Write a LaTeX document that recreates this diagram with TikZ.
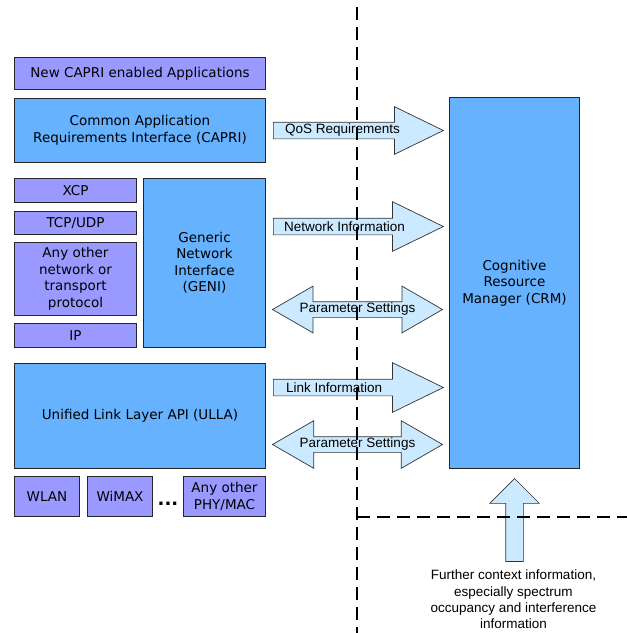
\documentclass[tikz,border=0pt]{standalone}
\usepackage{fontspec}
\setmainfont{DejaVu Sans}
\newfontfamily\arialfont{Liberation Sans}
\usepackage{tikz}
\usetikzlibrary{positioning, calc, shapes.arrows}

\definecolor{appcol}{RGB}{153,153,255}
\definecolor{ifacecol}{RGB}{102,178,255}
\definecolor{arrowcol}{RGB}{204,234,255}

\begin{document}
\begin{tikzpicture}[x=1pt, y=-1pt, font=\fontsize{13.5}{16.5}\selectfont]
    \tikzstyle{app} = [rectangle, draw=black!85, fill=appcol, line width=1pt, align=center, inner sep=1pt, anchor=north west]
    \tikzstyle{iface} = [rectangle, draw=black!85, fill=ifacecol, line width=1pt, align=center, inner sep=1pt, anchor=north west]
    \tikzstyle{infoarrow} = [single arrow, draw=black!80, fill=arrowcol, line width=0.7pt, inner xsep=0pt, inner ysep=8pt, single arrow tip angle=52, single arrow head extend=15.5pt, minimum height=170pt, anchor=tail]
    \tikzstyle{setarrow} = [double arrow, draw=black!80, fill=arrowcol, line width=0.7pt, inner xsep=0pt, inner ysep=7.5pt, double arrow tip angle=60, double arrow head extend=15.5pt, minimum height=170pt]
    \tikzstyle{arrowtext} = [font=\arialfont\fontsize{13.5}{16.3}\selectfont, inner sep=1pt]
    \tikzstyle{border} = [line width=2pt, dash pattern=on 13pt off 7pt]

    \useasboundingbox (0,0) rectangle (627,633);

    % left stack
    \node [app, minimum width=251pt, minimum height=32pt] (newapps) at (14,57) {New CAPRI enabled Applications};
    \node [iface, minimum width=251pt, minimum height=64pt] (capri) at (14,98) {Common Application\\Requirements Interface (CAPRI)};
    \node [app, minimum width=122pt, minimum height=24pt] (xcp) at (14,178) {XCP};
    \node [app, minimum width=122pt, minimum height=23pt] (tcp) at (14,211) {TCP/UDP};
    \node [app, minimum width=122pt, minimum height=73pt] (anyproto) at (14,242) {Any other\\network or\\transport\\protocol};
    \node [app, minimum width=122pt, minimum height=24pt] (ip) at (14,323) {IP};
    \node [iface, minimum width=122pt, minimum height=169pt] (geni) at (143,178) {Generic\\Network\\Interface\\(GENI)};
    \node [iface, minimum width=251pt, minimum height=105pt] (ulla) at (14,363) {Unified Link Layer API (ULLA)};
    \node [app, minimum width=65pt, minimum height=40pt] (wlan) at (14,476) {WLAN};
    \node [app, minimum width=65pt, minimum height=40pt] (wimax) at (87,476) {WiMAX};
    \node [app, minimum width=82pt, minimum height=40pt] (anyphy) at (183,476) {Any other\\PHY/MAC};
    \node [inner sep=0pt, font=\fontsize{18}{18}\selectfont] (dots) at ($(wimax.east)!0.5!(anyphy.west)+(0,7)$) {\textbf{...}};

    % resource manager
    \node [iface, minimum width=130pt, minimum height=371pt] (crm) at (449,97) {Cognitive\\Resource\\Manager (CRM)};

    % arrows between the stacks and the CRM
    \node [infoarrow] (qos) at ($(capri.east)+(7,0)$) {};
    \node [infoarrow, single arrow head extend=16.5pt] (netinfo) at ($(geni.east)+(7,-36.5)$) {};
    \node [setarrow] (netset) at ($(geni.east)!0.5!(crm.west)+(0,36.5)$) {};
    \node [infoarrow, single arrow head extend=16.5pt] (linkinfo) at ($(ulla.east)+(7,-28.5)$) {};
    \node [setarrow, double arrow head extend=16pt] (linkset) at ($(ulla.east)!0.5!(crm.west |- ulla.east)+(0,28.5)$) {};

    % further context from below
    \node [single arrow, draw=black!80, fill=arrowcol, line width=0.7pt, inner xsep=8.5pt, inner ysep=0pt, single arrow head extend=16pt, minimum height=83pt, shape border rotate=90, anchor=tip] (context) at ($(crm.south)+(0,9)$) {};

    % dashed borders
    \coordinate (bordertop) at (357,7);
    \coordinate (borderbot) at (357,633);
    \coordinate (borderright) at (627,517);
    \draw [border] (bordertop) -- (borderbot);
    \draw [border] (borderbot |- borderright) -- (borderright);

    % arrow labels
    \node [arrowtext, anchor=west] (qostext) at ($(qos.tail)+(11,0)$) {QoS Requirements};
    \node [arrowtext, anchor=west] (netinfotext) at ($(netinfo.tail)+(10,0)$) {Network Information};
    \node [arrowtext] (netsettext) at (netset) {Parameter Settings};
    \node [arrowtext, anchor=west] (linkinfotext) at ($(linkinfo.tail)+(12,0)$) {Link Information};
    \node [arrowtext] (linksettext) at (linkset) {Parameter Settings};
    \node [arrowtext, align=center, anchor=north] (contexttext) at ($(context.tail)+(-1,7)$) {Further context information,\\especially spectrum\\occupancy and interference\\information};
\end{tikzpicture}
\end{document}
